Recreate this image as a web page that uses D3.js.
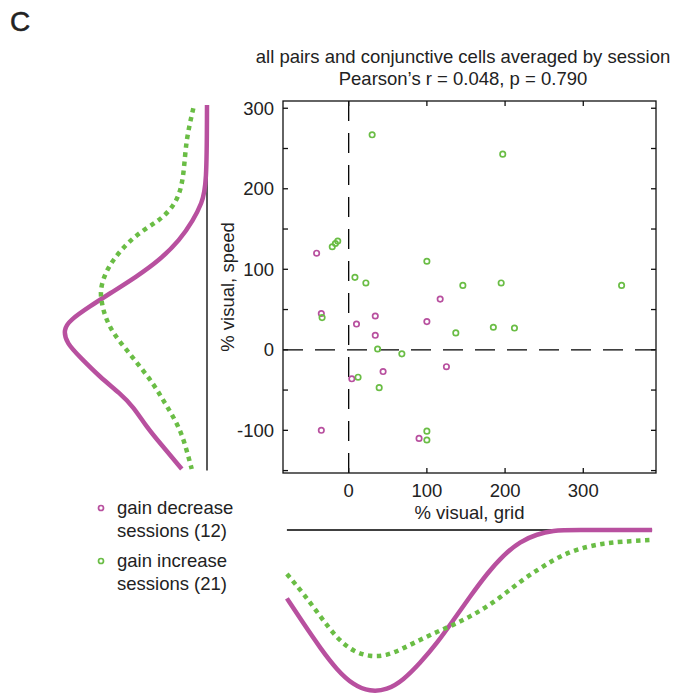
<!DOCTYPE html>
<html>
<head>
<meta charset="utf-8">
<script src="https://cdn.jsdelivr.net/npm/d3@7"></script>
<style>
  body { margin: 0; background: #fff; }
  svg text { font-family: "Liberation Sans", Arial, Helvetica, sans-serif; fill: #222; }
</style>
</head>
<body>
<svg id="chart" width="682" height="698"></svg>
<script>
// scatter values: [% visual grid, % visual speed]
const decreasePts = [
  [-41, 120], [-35, 45], [10, 32], [34, 42], [34, 18], [117, 63],
  [100, 35], [125, -21], [44, -27], [4, -36], [-35, -100], [90, -110]
];
const increasePts = [
  [30, 267], [-21, 128], [-17, 132], [-14, 135], [8, 90], [22, 83],
  [100, 110], [197, 243], [146, 80], [195, 83], [349, 80], [-34, 40],
  [37, 1], [68, -5], [137, 21], [12, -34], [39, -47], [100, -101],
  [100, -112], [185, 28], [212, 27]
];

// marginal densities (relative), speed axis: [speed, density]
const speedDecrease = [
  [304, 0], [203, 0.002], [182, 0.037], [161, 0.095], [136, 0.19], [112, 0.326],
  [91, 0.488], [70, 0.674], [54, 0.813], [37, 0.951], [25, 0.998], [8, 0.974],
  [-9, 0.882], [-34, 0.743], [-54, 0.604], [-71, 0.51], [-96, 0.419],
  [-116, 0.326], [-148, 0.175]
];
const speedIncrease = [
  [300, 0.095], [282, 0.118], [261, 0.141], [240, 0.153], [215, 0.165],
  [195, 0.188], [178, 0.234], [161, 0.326], [149, 0.442], [132, 0.558],
  [112, 0.651], [95, 0.708], [74, 0.743], [58, 0.731], [41, 0.708],
  [20, 0.651], [0, 0.558], [-21, 0.465], [-42, 0.373], [-63, 0.303],
  [-83, 0.234], [-104, 0.176], [-125, 0.141], [-148, 0.106]
];
// grid axis: [grid, density]
const gridDecrease = [
  [-79, 0.422], [-58, 0.576], [-36, 0.731], [-15, 0.864], [6, 0.957],
  [27, 0.998], [49, 0.988], [70, 0.926], [91, 0.823], [113, 0.699],
  [134, 0.556], [155, 0.412], [177, 0.268], [198, 0.154], [219, 0.072],
  [241, 0.025], [262, 0.004], [283, 0], [388, 0]
];
const gridIncrease = [
  [-79, 0.272], [-58, 0.391], [-36, 0.535], [-15, 0.669], [6, 0.751],
  [27, 0.782], [49, 0.776], [70, 0.73], [91, 0.679], [113, 0.628],
  [134, 0.586], [155, 0.535], [177, 0.473], [198, 0.401], [219, 0.319],
  [241, 0.247], [262, 0.185], [283, 0.134], [305, 0.103], [326, 0.083],
  [347, 0.072], [386, 0.062]
];

const xTicks = [0, 100, 200, 300];
const yTicks = [-150, -100, -50, 0, 50, 100, 150, 200, 250, 300];
const yLabels = [-100, 0, 100, 200, 300];

const magenta = "#b8509f";
const green = "#6abd45";
const fs = "18.5px";

const svg = d3.select("#chart");

const x = d3.scaleLinear().domain([-84, 393]).range([283, 656]);
const y = d3.scaleLinear().domain([-153, 309]).range([473, 101]);
const [x0, x1] = x.range();
const [y0, y1] = y.range();

// panel letter
svg.append("text").attr("x", 10).attr("y", 31)
  .style("font-size", "28px").style("stroke", "#222").style("stroke-width", 0.5).text("C");

// title
svg.append("text").attr("x", 463).attr("y", 63).attr("text-anchor", "middle")
  .style("font-size", fs).text("all pairs and conjunctive cells averaged by session");
svg.append("text").attr("x", 463).attr("y", 85).attr("text-anchor", "middle")
  .style("font-size", fs).text("Pearson\u2019s r = 0.048, p = 0.790");

// zero lines
svg.append("line").attr("x1", x(0)).attr("x2", x(0)).attr("y1", y1).attr("y2", y0)
  .attr("stroke", "#000").attr("stroke-width", 1.3).attr("stroke-dasharray", "20 12");
svg.append("line").attr("x1", x0).attr("x2", x1).attr("y1", y(0)).attr("y2", y(0))
  .attr("stroke", "#000").attr("stroke-width", 1.3).attr("stroke-dasharray", "20 12");

// box + inward ticks
svg.append("rect").attr("x", x0).attr("y", y1).attr("width", x1 - x0).attr("height", y0 - y1)
  .attr("fill", "none").attr("stroke", "#111").attr("stroke-width", 1.3);

const axG = svg.append("g").attr("stroke", "#111").attr("stroke-width", 1.3);
yTicks.forEach(t => {
  axG.append("line").attr("x1", x0).attr("x2", x0 + 5).attr("y1", y(t)).attr("y2", y(t));
  axG.append("line").attr("x1", x1).attr("x2", x1 - 5).attr("y1", y(t)).attr("y2", y(t));
});
xTicks.forEach(t => {
  axG.append("line").attr("x1", x(t)).attr("x2", x(t)).attr("y1", y0).attr("y2", y0 - 5);
  axG.append("line").attr("x1", x(t)).attr("x2", x(t)).attr("y1", y1).attr("y2", y1 + 5);
});

svg.append("g").selectAll("text").data(yLabels).join("text")
  .attr("x", 274).attr("y", d => y(d)).attr("dy", "0.36em").attr("text-anchor", "end")
  .style("font-size", fs).text(d => d);
svg.append("g").selectAll("text").data(xTicks).join("text")
  .attr("x", d => x(d)).attr("y", 497).attr("text-anchor", "middle")
  .style("font-size", fs).text(d => d);

svg.append("text").attr("x", (x0 + x1) / 2).attr("y", 519).attr("text-anchor", "middle")
  .style("font-size", fs).text("% visual, grid");
svg.append("text").attr("transform", `translate(234,${(y0 + y1) / 2}) rotate(-90)`)
  .attr("text-anchor", "middle").style("font-size", fs).text("% visual, speed");

// scatter points
const drawPts = (pts, col) => svg.append("g").selectAll("circle").data(pts).join("circle")
  .attr("cx", d => x(d[0])).attr("cy", d => y(d[1])).attr("r", 2.7)
  .attr("fill", "none").attr("stroke", col).attr("stroke-width", 1.7);
drawPts(decreasePts, magenta);
drawPts(increasePts, green);

// left marginal (speed)
const dL = d3.scaleLinear().domain([0, 1]).range([207, 63]);
svg.append("line").attr("x1", dL(0)).attr("x2", dL(0)).attr("y1", y(304)).attr("y2", y(-150))
  .attr("stroke", "#000").attr("stroke-width", 1.3);
const lineL = d3.line().x(d => dL(d[1])).y(d => y(d[0])).curve(d3.curveBasis);
svg.append("path").attr("d", lineL(speedDecrease)).attr("fill", "none")
  .attr("stroke", magenta).attr("stroke-width", 4.5);
svg.append("path").attr("d", lineL(speedIncrease)).attr("fill", "none")
  .attr("stroke", green).attr("stroke-width", 4.5).attr("stroke-dasharray", "4.5 4.5");

// bottom marginal (grid)
const dB = d3.scaleLinear().domain([0, 1]).range([530, 692]);
svg.append("line").attr("x1", x(-79)).attr("x2", x(388)).attr("y1", dB(0)).attr("y2", dB(0))
  .attr("stroke", "#000").attr("stroke-width", 1.3);
const lineB = d3.line().x(d => x(d[0])).y(d => dB(d[1])).curve(d3.curveBasis);
svg.append("path").attr("d", lineB(gridDecrease)).attr("fill", "none")
  .attr("stroke", magenta).attr("stroke-width", 4.5);
svg.append("path").attr("d", lineB(gridIncrease)).attr("fill", "none")
  .attr("stroke", green).attr("stroke-width", 4.5).attr("stroke-dasharray", "4.5 4.5");

// legend
const legend = [
  { col: magenta, lines: ["gain decrease", "sessions (12)"], y: 514 },
  { col: green, lines: ["gain increase", "sessions (21)"], y: 567 }
];
legend.forEach(l => {
  svg.append("circle").attr("cx", 101).attr("cy", l.y - 6).attr("r", 2.5)
    .attr("fill", "none").attr("stroke", l.col).attr("stroke-width", 1.7);
  l.lines.forEach((t, i) => svg.append("text").attr("x", 117).attr("y", l.y + i * 23)
    .style("font-size", fs).text(t));
});
</script>
</body>
</html>
